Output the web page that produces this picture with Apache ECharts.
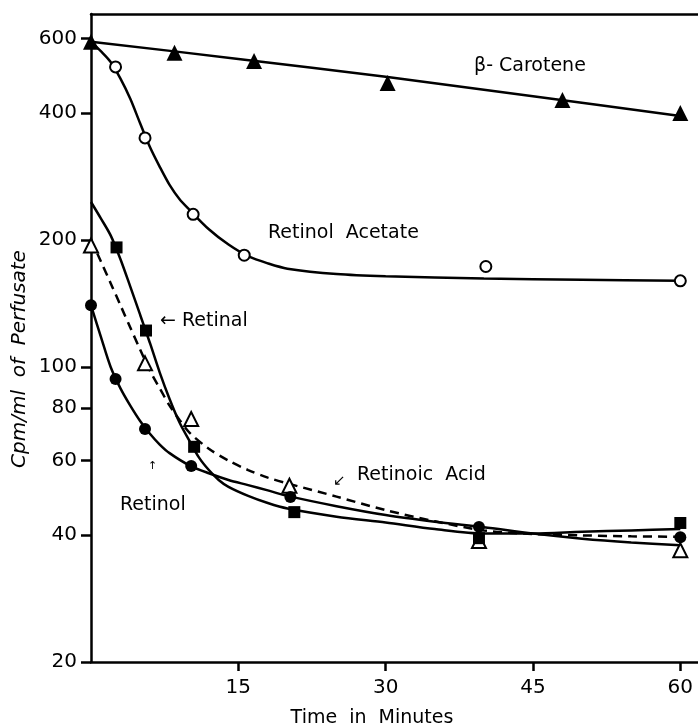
<!DOCTYPE html>
<html>
<head>
<meta charset="utf-8">
<script src="https://cdn.jsdelivr.net/npm/echarts@6/dist/echarts.min.js"></script>
<style>
  html, body { margin: 0; padding: 0; background: #fff; }
  #main { width: 698px; height: 727px; }
</style>
</head>
<body>
<div id="main"></div>
<script>
// tick labels
var xTicks = [15, 30, 45, 60];
var yTicks = [20, 40, 60, 80, 100, 200, 400, 600];

// measured points (minutes, cpm/ml)
var caroteneT = [0, 8.5, 16.6, 30.2, 48, 60];
var caroteneV = [590, 555, 531, 471, 429, 400];
var acetateT = [2.5, 5.5, 10.4, 15.6, 40.2, 60];
var acetateV = [514, 349, 230, 184, 173, 160];
var retinolT = [0, 2.5, 5.5, 10.2, 20.3, 39.5, 60];
var retinolV = [140, 93.7, 71.3, 58.3, 49.2, 41.8, 39.5];
var retinalT = [2.6, 5.6, 10.5, 20.7, 39.5, 60];
var retinalV = [192, 122, 64.7, 45.3, 39.3, 42.7];
var acidT = [0, 5.5, 10.2, 20.2, 39.5, 60];
var acidV = [194, 102, 75.3, 52.3, 38.7, 36.8];

// hand-drawn fit curves
var caroteneFitT = [0, 15, 30, 45, 60];
var caroteneFitV = [590, 537, 487, 438, 393];
var acetateFitT = [0, 1, 2, 3, 4, 5, 6, 7, 8, 9, 10, 12, 14, 16, 18, 20, 25, 30, 40, 50, 60];
var acetateFitV = [590, 560, 528, 482, 432, 378, 332, 298, 270, 250, 236, 212, 195, 183, 176, 171, 166, 164, 162, 161, 160];
var retinolFitT = [0, 1, 2, 3, 4, 5, 6, 7, 8, 10, 12, 14, 16, 18, 20, 25, 30, 35, 40, 45, 50, 55, 60];
var retinolFitV = [140, 118, 100, 89, 81, 74.5, 69.5, 65.5, 62.5, 58.5, 56, 54, 52.5, 51, 49.5, 46.8, 44.6, 43, 41.7, 40.3, 39.2, 38.4, 37.8];
var retinalFitT = [0, 1, 2, 3, 4, 5, 6, 7, 8, 9, 10, 11, 12, 13, 14, 16, 18, 20, 25, 30, 35, 40, 45, 50, 55, 60];
var retinalFitV = [246, 225, 205, 180, 155, 133, 114, 97, 84, 74, 67, 61, 57, 54, 52, 49.5, 47.6, 46.2, 44.2, 42.8, 41.3, 40.3, 40.3, 40.7, 41, 41.3];
var acidFitT = [0, 1, 2, 3, 4, 5, 6, 7, 8, 9, 10, 12, 14, 16, 18, 20, 25, 30, 35, 40, 45, 50, 55, 60];
var acidFitV = [200, 178, 158, 140, 124, 110, 98, 89, 81, 75, 70, 64, 60, 57, 54.7, 53, 49.3, 45.8, 43.1, 41, 40.2, 39.9, 39.7, 39.6];

function zip(t, v) {
  return t.map(function (x, i) { return [x, v[i]]; });
}

var FONT = 'DejaVu Sans';
var myChart = echarts.init(document.getElementById('main'), null, { renderer: 'canvas' });

function curve(t, v, dashed) {
  return {
    type: 'line',
    data: zip(t, v),
    symbol: 'none',
    smooth: 0.3,
    clip: false,
    lineStyle: { color: '#000', width: 2.5, type: dashed ? [9, 6] : 'solid' },
    z: 2
  };
}

function points(t, v, symbol, size, open) {
  return {
    type: 'scatter',
    data: zip(t, v),
    symbol: symbol,
    symbolSize: size,
    clip: false,
    itemStyle: open
      ? { color: '#fff', borderColor: '#000', borderWidth: 2, opacity: 1 }
      : { color: '#000', opacity: 1 },
    z: 5
  };
}

function label(text, x, y, size, extra) {
  return {
    type: 'text',
    x: x,
    y: y,
    style: Object.assign({
      text: text,
      font: (size || 19) + 'px "' + FONT + '"',
      fill: '#000',
      textVerticalAlign: 'middle'
    }, extra || {}),
    z: 10
  };
}

var option = {
  animation: false,
  backgroundColor: '#fff',
  grid: { left: 91, right: 0, top: 14, bottom: 65 },
  xAxis: [
    {
      type: 'value',
      min: 0,
      max: 61.8,
      interval: 15,
      splitLine: { show: false },
      axisLine: { lineStyle: { color: '#000', width: 2.5 } },
      axisTick: { customValues: xTicks, length: 9, lineStyle: { color: '#000', width: 2.5 } },
      axisLabel: { customValues: xTicks, color: '#000', fontFamily: FONT, fontSize: 20, margin: 16 }
    },
    {
      type: 'value',
      position: 'top',
      min: 0,
      max: 61.8,
      splitLine: { show: false },
      axisLine: { show: true, lineStyle: { color: '#000', width: 2.5 } },
      axisTick: { show: false },
      axisLabel: { show: false }
    }
  ],
  yAxis: {
    type: 'log',
    logBase: 10,
    min: 20,
    max: 686,
    splitLine: { show: false },
    axisLine: { lineStyle: { color: '#000', width: 2.5 } },
    axisTick: { customValues: yTicks, length: 10, lineStyle: { color: '#000', width: 2.5 } },
    axisLabel: { customValues: yTicks, color: '#000', fontFamily: FONT, fontSize: 20, margin: 14 },
    minorTick: { show: false }
  },
  series: [
    curve(caroteneFitT, caroteneFitV),
    curve(acetateFitT, acetateFitV),
    curve(retinolFitT, retinolFitV),
    curve(retinalFitT, retinalFitV),
    curve(acidFitT, acidFitV, true),
    points(acetateT, acetateV, 'circle', 11, true),
    points(acidT, acidV, 'triangle', 14, true),
    points(retinolT, retinolV, 'circle', 12, false),
    points(retinalT, retinalV, 'rect', 12, false),
    points(caroteneT, caroteneV, 'triangle', 16, false)
  ],
  graphic: [
    label('\u03B2- Carotene', 474, 66, 19),
    label('Retinol  Acetate', 268, 233, 19),
    label('\u2190 Retinal', 160, 321, 19),
    label('\u2191', 148, 466, 11),
    label('Retinol', 120, 505, 19),
    label('\u2199', 333, 481, 15),
    label('Retinoic  Acid', 357, 475, 19),
    label('Time  in  Minutes', 372, 718, 19, { textAlign: 'center' }),
    {
      type: 'text',
      x: 20,
      y: 359,
      rotation: Math.PI / 2,
      style: {
        text: 'Cpm/ml  of  Perfusate',
        font: 'italic 20px "' + FONT + '"',
        fill: '#000',
        textAlign: 'center',
        textVerticalAlign: 'middle'
      },
      z: 10
    }
  ]
};

myChart.setOption(option);
</script>
</body>
</html>
